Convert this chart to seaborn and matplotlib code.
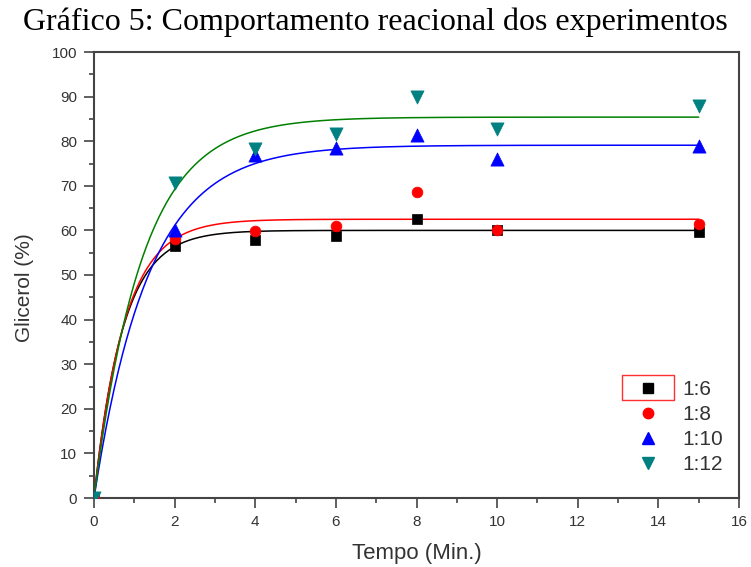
import numpy as np
import pandas as pd
import matplotlib
matplotlib.use("Agg")
import matplotlib.pyplot as plt
import seaborn as sns
from matplotlib.patches import Rectangle
from matplotlib.ticker import MultipleLocator

# ---- data ----
tempo = [0, 2, 4, 6, 8, 10, 15]
series_names = ["1:6", "1:8", "1:10", "1:12"]
glicerol_1_6 = [0, 56.4, 57.8, 58.7, 62.6, 60.0, 59.7]
glicerol_1_8 = [0, 58.0, 59.8, 61.0, 68.7, 60.1, 61.5]
glicerol_1_10 = [0, 60.1, 76.8, 78.5, 81.3, 76.0, 79.0]
glicerol_1_12 = [0, 70.6, 78.3, 81.7, 90.0, 82.8, 87.8]
# fitted curve parameters (y = A * (1 - exp(-k t)))
fit_A = [60.0, 62.5, 79.1, 85.4]
fit_k = [1.40, 1.32, 0.74, 0.83]

marker_colors = ["#000000", "#ff0000", "#0000ff", "#008080"]
line_colors = ["#000000", "#ff0000", "#0000ff", "#008000"]
markers = ["s", "o", "^", "v"]
sizes = [60, 60, 90, 90]

sns.set_style("white")
plt.rcParams["font.family"] = ["Liberation Sans", "DejaVu Sans"]

fig = plt.figure(figsize=(7.51, 5.67), dpi=100)
ax = fig.add_axes([94 / 751, 69 / 567, 645 / 751, 446 / 567])

values = [glicerol_1_6, glicerol_1_8, glicerol_1_10, glicerol_1_12]
tgrid = np.linspace(0, 15, 300)
for name, A, k, lc in zip(series_names, fit_A, fit_k, line_colors):
    fit_df = pd.DataFrame({"t": tgrid, "y": A * (1 - np.exp(-k * tgrid))})
    sns.lineplot(data=fit_df, x="t", y="y", color=lc, lw=1.1, ax=ax, legend=False)

handles = []
for name, vals, mc, mk, sz in zip(series_names, values, marker_colors, markers, sizes):
    df = pd.DataFrame({"t": tempo, "y": vals})
    sns.scatterplot(data=df, x="t", y="y", color=mc, marker=mk, s=sz,
                    edgecolor=mc, linewidth=0.5, ax=ax, legend=False, zorder=3)
    handles.append(plt.Line2D([], [], ls="none", marker=mk, color=mc,
                              markersize=9 if mk in "^v" else 7.5))

ax.set_xlim(0, 16)
ax.set_ylim(0, 100)
ax.xaxis.set_major_locator(MultipleLocator(2))
ax.xaxis.set_minor_locator(MultipleLocator(1))
ax.yaxis.set_major_locator(MultipleLocator(10))
ax.yaxis.set_minor_locator(MultipleLocator(5))
ax.tick_params(which="both", direction="out", width=1.2, color="#444444",
               bottom=True, left=True, top=False, right=False,
               labelsize=11, labelcolor="#333333", pad=5)
ax.tick_params(which="major", length=7)
ax.tick_params(which="minor", length=3.5)
for sp in ax.spines.values():
    sp.set_color("#444444")
    sp.set_linewidth(1.5)

ax.set_xlabel("Tempo (Min.)", fontsize=16, color="#333333", labelpad=10)
ax.set_ylabel("Glicerol (%)", fontsize=15, color="#333333")
ax.yaxis.set_label_coords(-(94 - 34) / 645, (498 - 288) / 446)

leg = ax.legend(handles, series_names, loc="upper left",
                bbox_to_anchor=((623 - 94) / 645, (498 - 372) / 446),
                borderaxespad=0, frameon=False, fontsize=15,
                handlelength=1.6, handletextpad=0.85, labelspacing=0.28,
                labelcolor="#333333")

# red selection box around first legend symbol
ax.add_patch(Rectangle(((622 - 94) / 645, (498 - 400) / 446), 52 / 645, 25 / 446,
                       transform=ax.transAxes, fill=False, edgecolor="#ff3030",
                       lw=1.0, zorder=5, clip_on=False))

fig.text(0.5, 0.961, "Gráfico 5: Comportamento reacional dos experimentos",
         ha="center", va="center", fontsize=23, family="Liberation Serif", color="black")

fig.savefig("out.png", dpi=100)
